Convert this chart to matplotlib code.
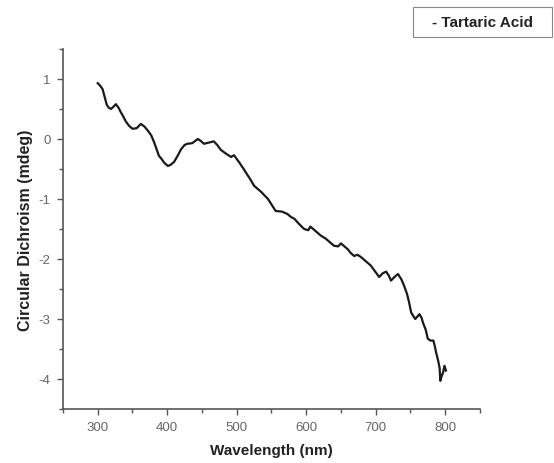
import matplotlib.pyplot as plt
from matplotlib.patches import Rectangle
from matplotlib.ticker import MultipleLocator

plt.rcParams['font.family'] = ['Liberation Sans', 'DejaVu Sans']
plt.rcParams['axes.unicode_minus'] = False

# CD spectrum
wavelength = [300, 304, 307, 310, 313, 316, 319, 322, 326, 330, 333, 337, 340, 345, 350,
              356, 362, 367, 372, 377, 381, 385, 388, 391, 396, 401, 405, 410, 415, 420,
              425, 429, 436, 444, 448, 453, 460, 467, 472, 477, 484, 492, 496, 503, 510,
              516, 520, 525, 535, 545, 550, 556, 565, 573, 578, 583, 590, 597, 603, 606,
              610, 615, 621, 628, 634, 640, 646, 650, 655, 660, 664, 669, 674, 679, 686,
              693, 698, 705, 710, 715, 719, 722, 727, 732, 737, 741, 745, 748, 751, 754,
              757, 760, 763, 766, 768, 772, 775, 779, 783, 785, 787, 790, 792, 793, 795,
              797, 799, 801]
cd = [0.93, 0.88, 0.83, 0.70, 0.57, 0.52, 0.50, 0.53, 0.58, 0.52, 0.45, 0.37, 0.30, 0.22, 0.17,
      0.18, 0.25, 0.21, 0.14, 0.06, -0.05, -0.18, -0.28, -0.32, -0.40, -0.45, -0.43, -0.38, -0.28, -0.17,
      -0.10, -0.08, -0.07, 0.00, -0.03, -0.08, -0.06, -0.04, -0.10, -0.18, -0.24, -0.30, -0.27, -0.38, -0.50,
      -0.61, -0.68, -0.78, -0.88, -1.00, -1.09, -1.20, -1.21, -1.25, -1.30, -1.33, -1.42, -1.50, -1.52, -1.46,
      -1.50, -1.55, -1.61, -1.66, -1.72, -1.78, -1.79, -1.74, -1.79, -1.84, -1.90, -1.95, -1.93, -1.97, -2.04,
      -2.11, -2.19, -2.30, -2.24, -2.21, -2.28, -2.36, -2.30, -2.25, -2.34, -2.45, -2.58, -2.72, -2.89, -2.95,
      -3.00, -2.96, -2.92, -2.98, -3.06, -3.18, -3.33, -3.36, -3.36, -3.45, -3.56, -3.70, -3.82, -4.03, -3.95,
      -3.89, -3.78, -3.86]

fig = plt.figure(figsize=(5.54, 4.64), dpi=100)
ax = fig.add_axes([0.1137, 0.1164, 0.7526, 0.7759])

ax.plot(wavelength, cd, color='#1a1a1a', lw=1.6)

ax.set_xlim(250, 850)
ax.set_ylim(-4.5, 1.5)
ax.xaxis.set_major_locator(MultipleLocator(100))
ax.xaxis.set_minor_locator(MultipleLocator(50))
ax.yaxis.set_major_locator(MultipleLocator(1))
ax.yaxis.set_minor_locator(MultipleLocator(0.5))

for s in ['top', 'right']:
    ax.spines[s].set_visible(False)
for s in ['left', 'bottom']:
    ax.spines[s].set_color('#555555')
    ax.spines[s].set_linewidth(1.2)

ax.tick_params(which='major', direction='out', length=4, width=1, color='#555555',
               labelcolor='#666666', labelsize=9.5, pad=5)
ax.tick_params(which='minor', direction='out', length=3, width=1, color='#555555')

ax.set_xlabel('Wavelength (nm)', fontsize=11, fontweight='bold', color='#222222', labelpad=7)
ax.set_ylabel('Circular Dichroism (mdeg)', fontsize=11.5, fontweight='bold', color='#222222', labelpad=4)

# legend-like label box, top right
fig.patches.append(Rectangle((0.7455, 0.9181), 0.2509, 0.0647, transform=fig.transFigure,
                             fc='white', ec='#888888', lw=0.8))
fig.text(0.871, 0.9504, '- Tartaric Acid', fontsize=11, fontweight='bold', color='#222222',
         ha='center', va='center')

fig.savefig('out.png', dpi=100)
